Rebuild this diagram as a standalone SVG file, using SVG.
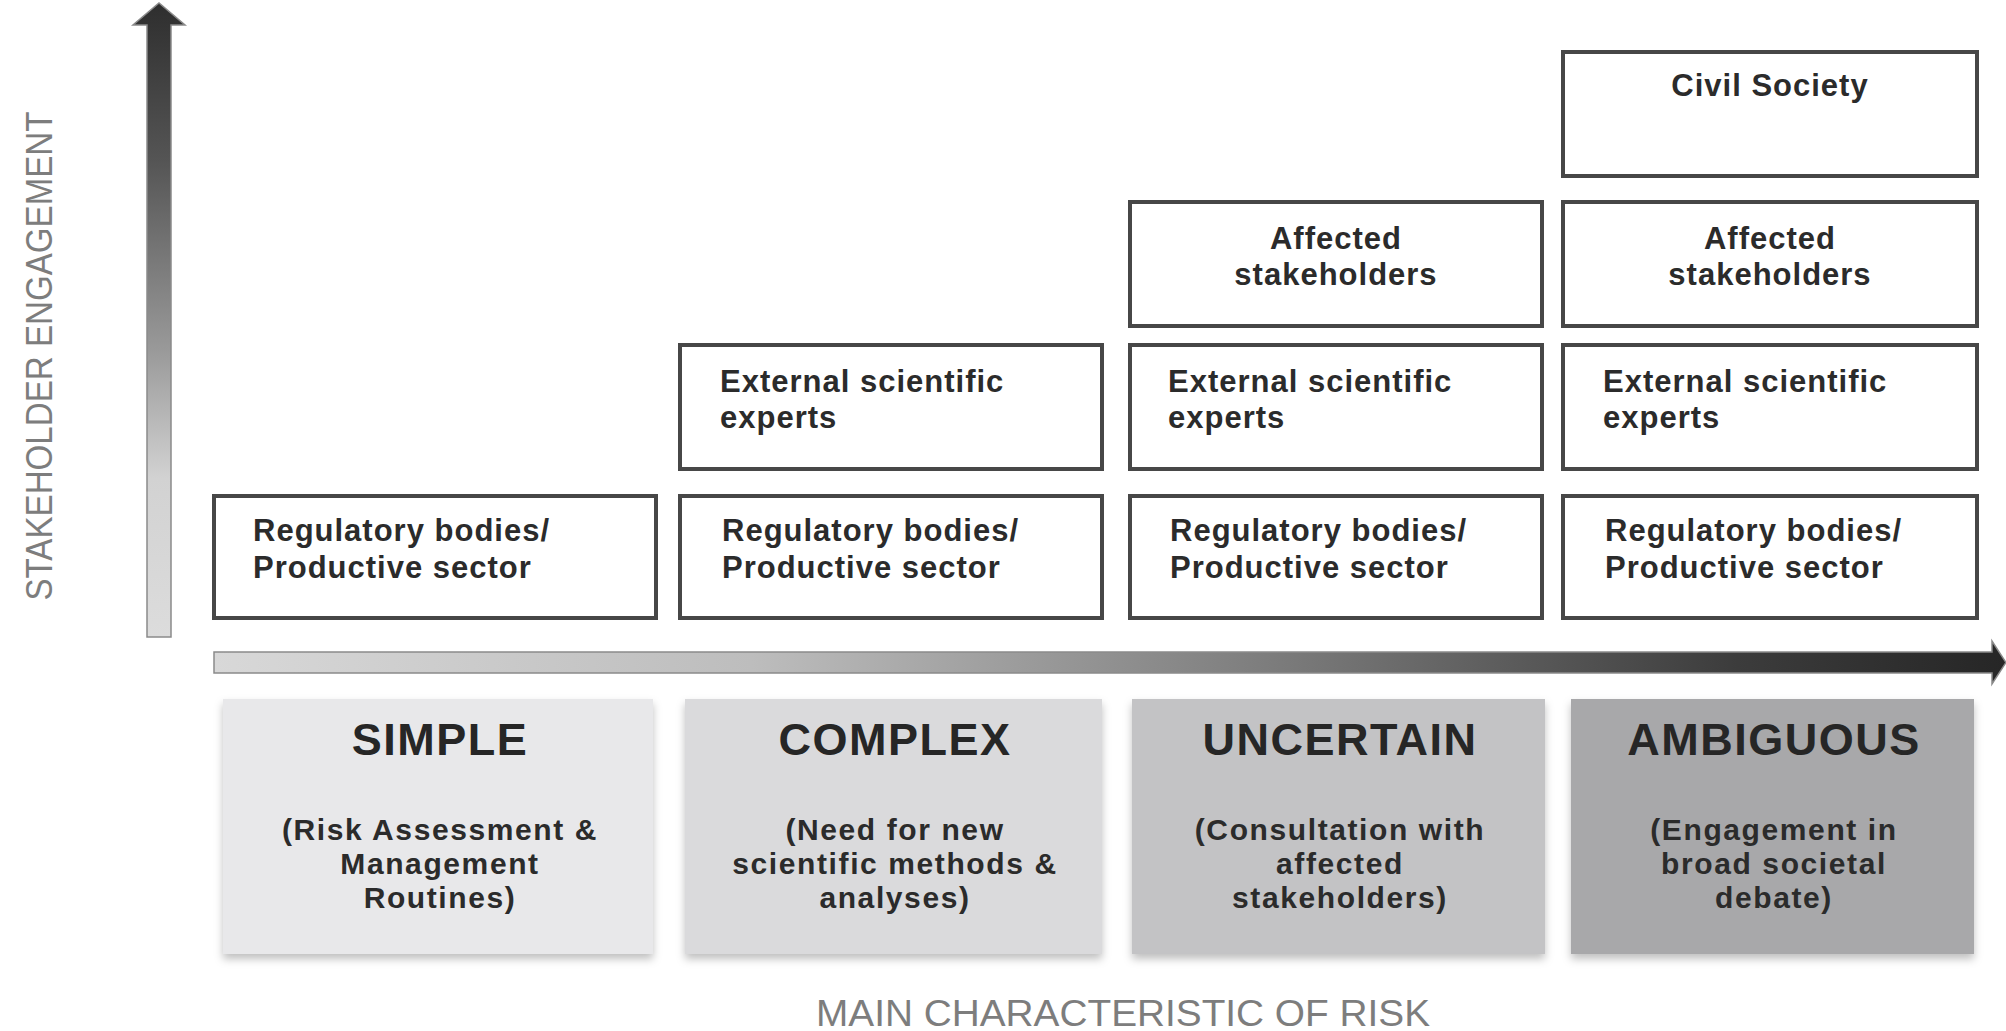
<svg xmlns="http://www.w3.org/2000/svg" width="2006" height="1031" viewBox="0 0 2006 1031">
  <defs>
    <linearGradient id="gv" x1="0" y1="0" x2="0" y2="1">
      <stop offset="0" stop-color="#2e2e2e"/>
      <stop offset="0.25" stop-color="#555555"/>
      <stop offset="0.55" stop-color="#9a9a9a"/>
      <stop offset="0.75" stop-color="#d2d2d2"/>
      <stop offset="1" stop-color="#dcdcdc"/>
    </linearGradient>
    <linearGradient id="gh" x1="0" y1="0" x2="1" y2="0">
      <stop offset="0" stop-color="#d8d8d8"/>
      <stop offset="0.3" stop-color="#bdbdbd"/>
      <stop offset="0.6" stop-color="#7a7a7a"/>
      <stop offset="0.85" stop-color="#3c3c3c"/>
      <stop offset="1" stop-color="#262626"/>
    </linearGradient>
    <filter id="sh" x="-5%" y="-5%" width="110%" height="115%">
      <feDropShadow dx="0" dy="5" stdDeviation="4" flood-color="#000" flood-opacity="0.25"/>
    </filter>
  </defs>
  <style>
    .box { fill: #ffffff; stroke: #474747; stroke-width: 4; }
    .bt { font-family: "Liberation Sans", Arial, Helvetica, sans-serif; font-weight: bold; font-size: 31px; letter-spacing: 1px; fill: #2b2b2b; }
    .c { text-anchor: middle; }
    .cat { filter: url(#sh); }
    .title { font-family: "Liberation Sans", Arial, Helvetica, sans-serif; font-weight: bold; font-size: 45px; letter-spacing: 1.5px; fill: #262626; text-anchor: middle; }
    .sub { font-family: "Liberation Sans", Arial, Helvetica, sans-serif; font-weight: bold; font-size: 30px; letter-spacing: 1.6px; fill: #2b2b2b; text-anchor: middle; }
    .axis { font-family: "Liberation Sans", Arial, Helvetica, sans-serif; font-size: 36px; fill: #7d7d7d; }
  </style>
  <rect x="0" y="0" width="2006" height="1031" fill="#ffffff"/>

  <!-- connectors: axes -->
  <g id="connectors">
    <path d="M147,637 L147,25 L133,25 L159,3 L185,25 L171,25 L171,637 Z" fill="url(#gv)" stroke="#8a8a8a" stroke-width="1.5"/>
    <path d="M214,652 L1992,652 L1992,641 L2006,662.5 L1992,684 L1992,673 L214,673 Z" fill="url(#gh)" stroke="#8a8a8a" stroke-width="1.5"/>
  </g>

  <g id="label-y">
    <text class="axis" text-anchor="middle" transform="translate(52,356) rotate(-90)" textLength="489" lengthAdjust="spacingAndGlyphs">STAKEHOLDER ENGAGEMENT</text>
  </g>
  <g id="label-x">
    <text class="axis" x="1123" y="1026" text-anchor="middle" textLength="614" lengthAdjust="spacingAndGlyphs">MAIN CHARACTERISTIC OF RISK</text>
  </g>

  <!-- Column 1 -->
  <g id="reg1">
    <rect class="box" x="214" y="496" width="442" height="122"/>
    <text class="bt" x="253" y="541">Regulatory bodies/</text>
    <text class="bt" x="253" y="578">Productive sector</text>
  </g>

  <!-- Column 2 -->
  <g id="reg2">
    <rect class="box" x="680" y="496" width="422" height="122"/>
    <text class="bt" x="722" y="541">Regulatory bodies/</text>
    <text class="bt" x="722" y="578">Productive sector</text>
  </g>
  <g id="ext2">
    <rect class="box" x="680" y="345" width="422" height="124"/>
    <text class="bt" x="720" y="392">External scientific</text>
    <text class="bt" x="720" y="428">experts</text>
  </g>

  <!-- Column 3 -->
  <g id="reg3">
    <rect class="box" x="1130" y="496" width="412" height="122"/>
    <text class="bt" x="1170" y="541">Regulatory bodies/</text>
    <text class="bt" x="1170" y="578">Productive sector</text>
  </g>
  <g id="ext3">
    <rect class="box" x="1130" y="345" width="412" height="124"/>
    <text class="bt" x="1168" y="392">External scientific</text>
    <text class="bt" x="1168" y="428">experts</text>
  </g>
  <g id="aff3">
    <rect class="box" x="1130" y="202" width="412" height="124"/>
    <text class="bt c" x="1336" y="249">Affected</text>
    <text class="bt c" x="1336" y="285">stakeholders</text>
  </g>

  <!-- Column 4 -->
  <g id="reg4">
    <rect class="box" x="1563" y="496" width="414" height="122"/>
    <text class="bt" x="1605" y="541">Regulatory bodies/</text>
    <text class="bt" x="1605" y="578">Productive sector</text>
  </g>
  <g id="ext4">
    <rect class="box" x="1563" y="345" width="414" height="124"/>
    <text class="bt" x="1603" y="392">External scientific</text>
    <text class="bt" x="1603" y="428">experts</text>
  </g>
  <g id="aff4">
    <rect class="box" x="1563" y="202" width="414" height="124"/>
    <text class="bt c" x="1770" y="249">Affected</text>
    <text class="bt c" x="1770" y="285">stakeholders</text>
  </g>
  <g id="civil4">
    <rect class="box" x="1563" y="52" width="414" height="124"/>
    <text class="bt c" x="1770" y="96">Civil Society</text>
  </g>

  <!-- Risk categories -->
  <g id="simple">
    <rect class="cat" x="223" y="699" width="430" height="255" fill="#e8e8ea"/>
    <text class="title" x="440" y="755">SIMPLE</text>
    <text class="sub" x="440" y="840">(Risk Assessment &amp;</text>
    <text class="sub" x="440" y="874">Management</text>
    <text class="sub" x="440" y="908">Routines)</text>
  </g>
  <g id="complex">
    <rect class="cat" x="685" y="699" width="417" height="255" fill="#dadadc"/>
    <text class="title" x="895" y="755">COMPLEX</text>
    <text class="sub" x="895" y="840">(Need for new</text>
    <text class="sub" x="895" y="874">scientific methods &amp;</text>
    <text class="sub" x="895" y="908">analyses)</text>
  </g>
  <g id="uncertain">
    <rect class="cat" x="1132" y="699" width="413" height="255" fill="#c3c3c5"/>
    <text class="title" x="1340" y="755">UNCERTAIN</text>
    <text class="sub" x="1340" y="840">(Consultation with</text>
    <text class="sub" x="1340" y="874">affected</text>
    <text class="sub" x="1340" y="908">stakeholders)</text>
  </g>
  <g id="ambiguous">
    <rect class="cat" x="1571" y="699" width="403" height="255" fill="#a8a8aa"/>
    <text class="title" x="1774" y="755">AMBIGUOUS</text>
    <text class="sub" x="1774" y="840">(Engagement in</text>
    <text class="sub" x="1774" y="874">broad societal</text>
    <text class="sub" x="1774" y="908">debate)</text>
  </g>
</svg>
